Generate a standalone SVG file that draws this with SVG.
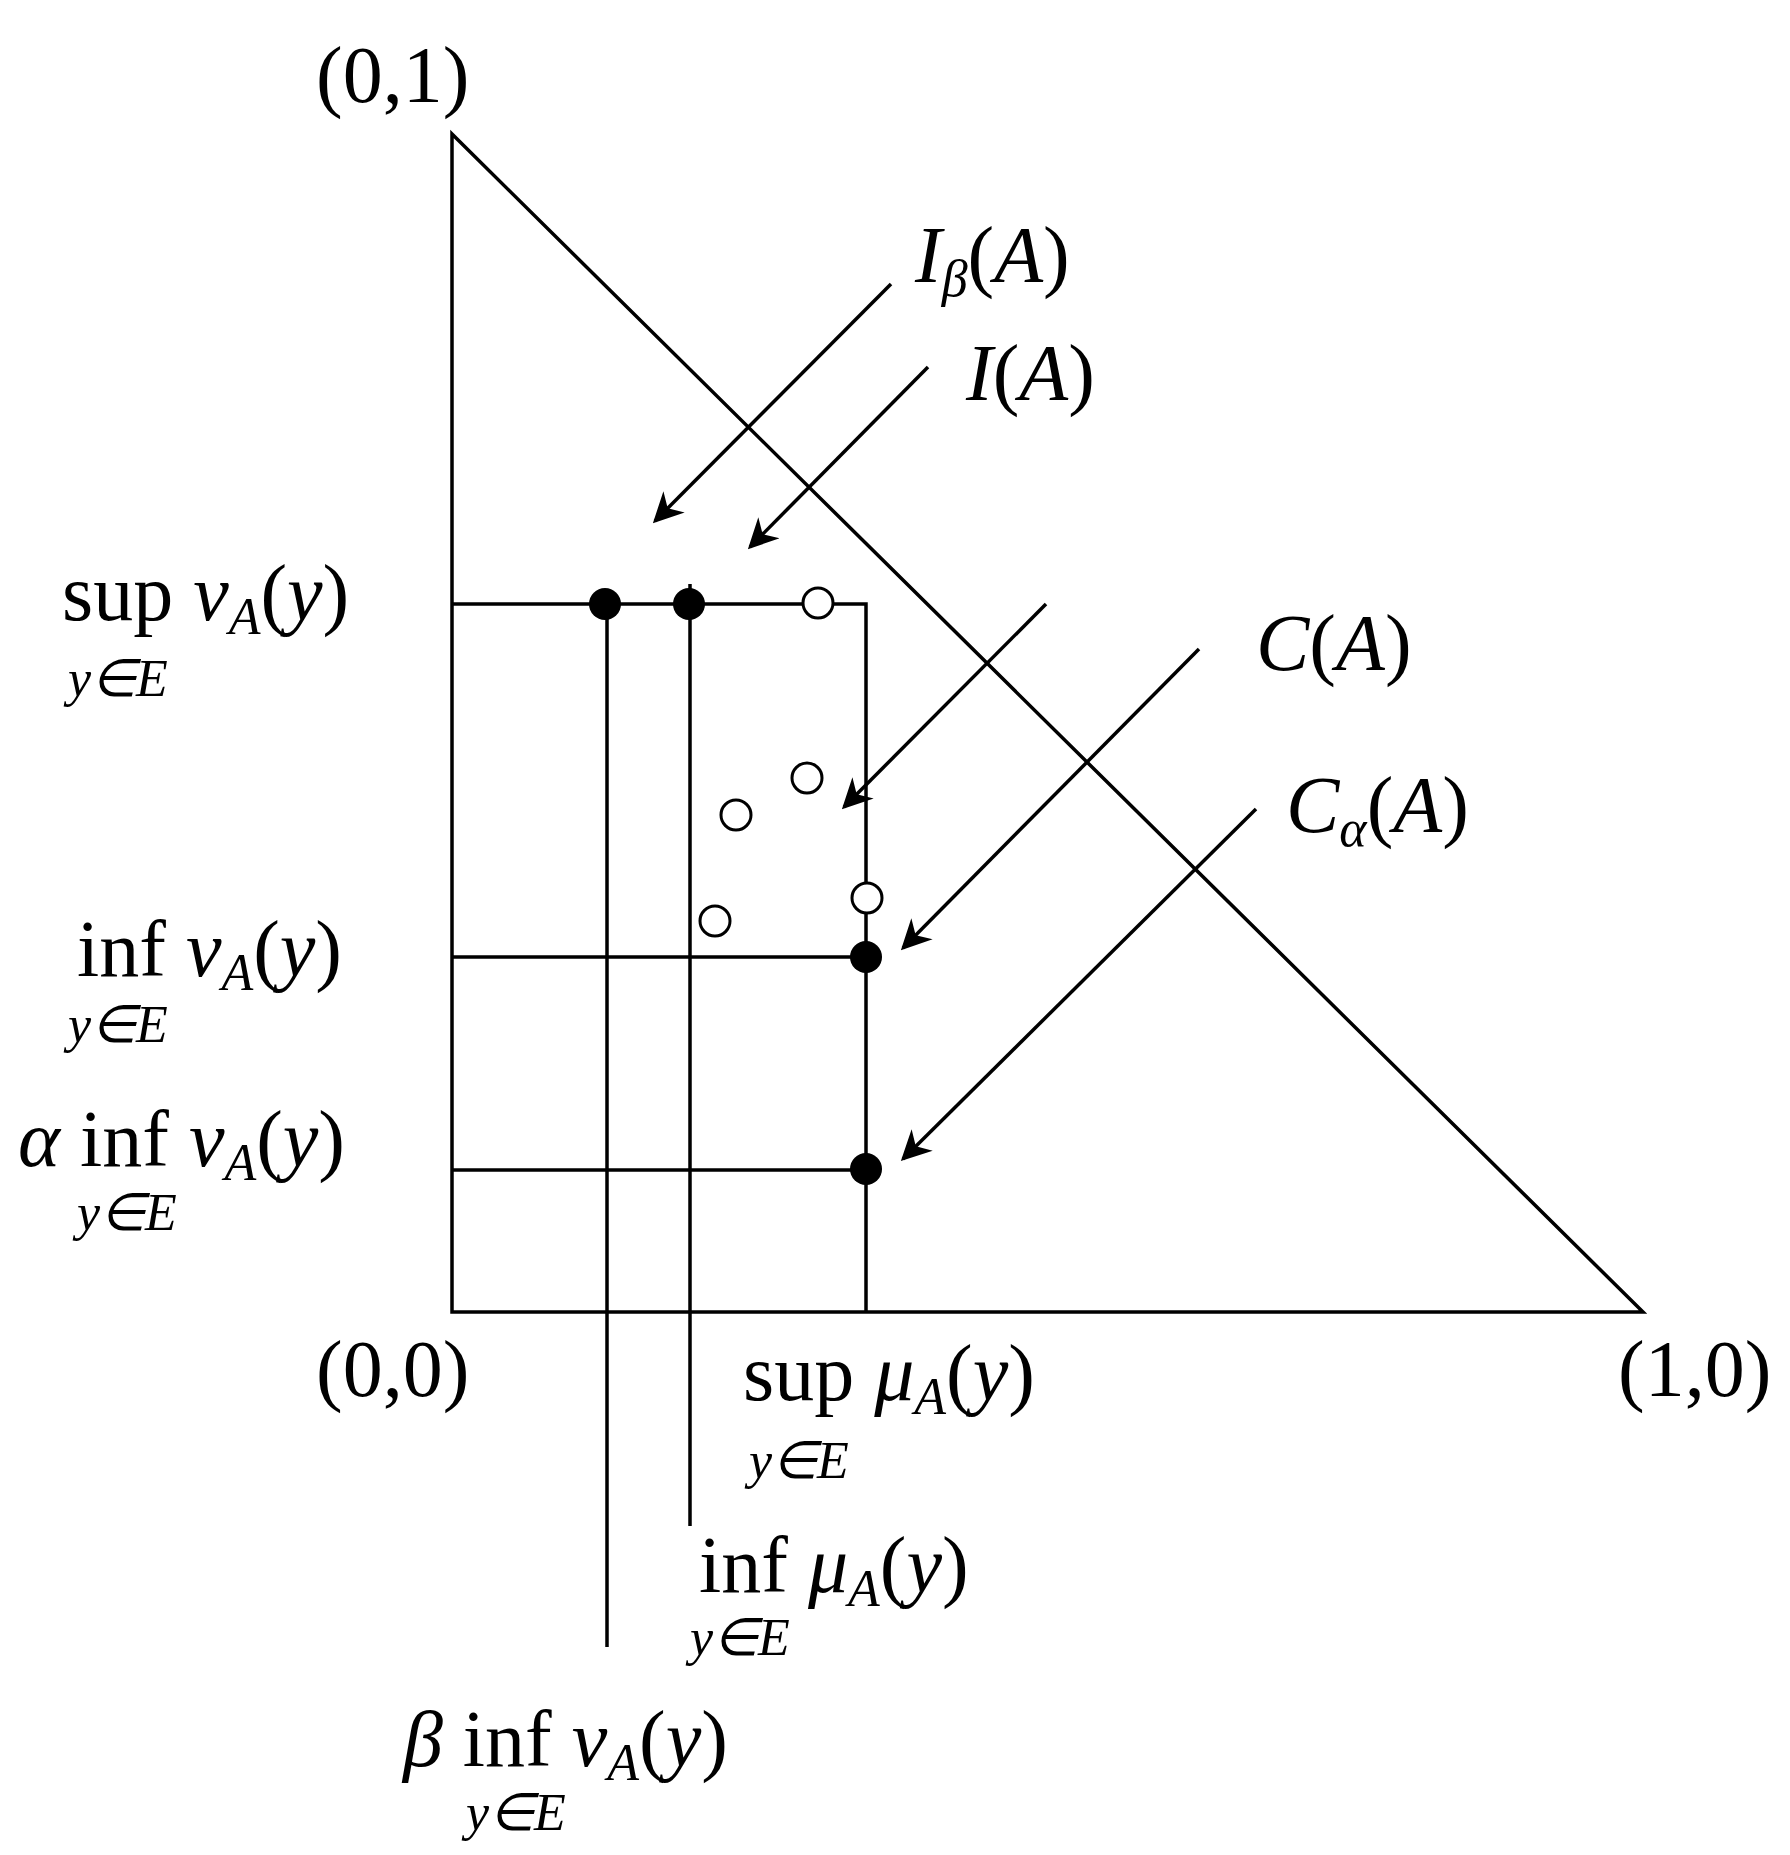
<svg xmlns="http://www.w3.org/2000/svg" width="1790" height="1855" viewBox="0 0 1790 1855">
<style>
.l{stroke:#000;stroke-width:3.5;fill:none}
.t{font-family:"Liberation Serif",serif;font-size:80px;fill:#000}
.s{font-family:"Liberation Serif",serif;font-size:52px;font-style:italic;fill:#000}
.i{font-style:italic}
.sub{font-size:52px;font-style:italic}
.o{fill:#fff;stroke:#000;stroke-width:3}
</style>
<defs><marker id="a" viewBox="0 0 10 10" refX="9" refY="5" markerWidth="36" markerHeight="30" markerUnits="userSpaceOnUse" orient="auto"><path d="M0,0 L10,5 L0,10 L3,5z" fill="#000"/></marker></defs>
<g id="frame">
<path class="l" d="M452,134 L452,1312 L1643,1312 Z"/>
<path class="l" d="M452,604 L866,604 L866,1312"/>
<path class="l" d="M452,957 L866,957 M452,1170 L866,1170"/>
<path class="l" d="M607,604 L607,1647 M690,584 L690,1526"/>
</g>
<g id="points">
<circle cx="605" cy="604" r="16"/><circle cx="689" cy="604" r="16"/>
<circle cx="866" cy="957" r="16"/><circle cx="866" cy="1169" r="16"/>
<circle class="o" cx="818" cy="603" r="15"/><circle class="o" cx="807" cy="778" r="15"/>
<circle class="o" cx="736" cy="815" r="15"/><circle class="o" cx="715" cy="921" r="15"/>
<circle class="o" cx="867" cy="898" r="15"/>
</g>
<g id="connectors" stroke="#000" stroke-width="3.5">
<line x1="891" y1="284" x2="655" y2="521" marker-end="url(#a)"/>
<line x1="928" y1="367" x2="750" y2="547" marker-end="url(#a)"/>
<line x1="1046" y1="604" x2="844" y2="807" marker-end="url(#a)"/>
<line x1="1199" y1="649" x2="903" y2="948" marker-end="url(#a)"/>
<line x1="1256" y1="809" x2="903" y2="1159" marker-end="url(#a)"/>
</g>
<g id="labels">
<text class="t" x="316" y="102">(0,1)</text>
<text class="t" x="316" y="1396">(0,0)</text>
<text class="t" x="1618" y="1396">(1,0)</text>
<text class="t" x="915" y="282"><tspan class="i">I</tspan><tspan class="sub" dy="14">β</tspan><tspan dy="-14">(</tspan><tspan class="i">A</tspan>)</text>
<text class="t" x="966" y="400"><tspan class="i">I</tspan>(<tspan class="i">A</tspan>)</text>
<text class="t" x="1256" y="670"><tspan class="i">C</tspan>(<tspan class="i">A</tspan>)</text>
<text class="t" x="1286" y="832"><tspan class="i">C</tspan><tspan class="sub" dy="14">α</tspan><tspan dy="-14">(</tspan><tspan class="i">A</tspan>)</text>
<text class="t" x="62" y="620">sup <tspan class="i">ν</tspan><tspan class="sub" dy="14">A</tspan><tspan dy="-14">(</tspan><tspan class="i">y</tspan>)</text>
<text class="s" x="68" y="696">y∈E</text>
<text class="t" x="77" y="976">inf <tspan class="i">ν</tspan><tspan class="sub" dy="14">A</tspan><tspan dy="-14">(</tspan><tspan class="i">y</tspan>)</text>
<text class="s" x="68" y="1042">y∈E</text>
<text class="t" x="18" y="1166"><tspan class="i">α</tspan> inf <tspan class="i">ν</tspan><tspan class="sub" dy="14">A</tspan><tspan dy="-14">(</tspan><tspan class="i">y</tspan>)</text>
<text class="s" x="77" y="1230">y∈E</text>
<text class="t" x="743" y="1400">sup <tspan class="i">μ</tspan><tspan class="sub" dy="14">A</tspan><tspan dy="-14">(</tspan><tspan class="i">y</tspan>)</text>
<text class="s" x="749" y="1478">y∈E</text>
<text class="t" x="699" y="1592">inf <tspan class="i">μ</tspan><tspan class="sub" dy="14">A</tspan><tspan dy="-14">(</tspan><tspan class="i">y</tspan>)</text>
<text class="s" x="690" y="1655">y∈E</text>
<text class="t" x="403" y="1766"><tspan class="i">β</tspan> inf <tspan class="i">ν</tspan><tspan class="sub" dy="14">A</tspan><tspan dy="-14">(</tspan><tspan class="i">y</tspan>)</text>
<text class="s" x="466" y="1830">y∈E</text>
</g>
</svg>
